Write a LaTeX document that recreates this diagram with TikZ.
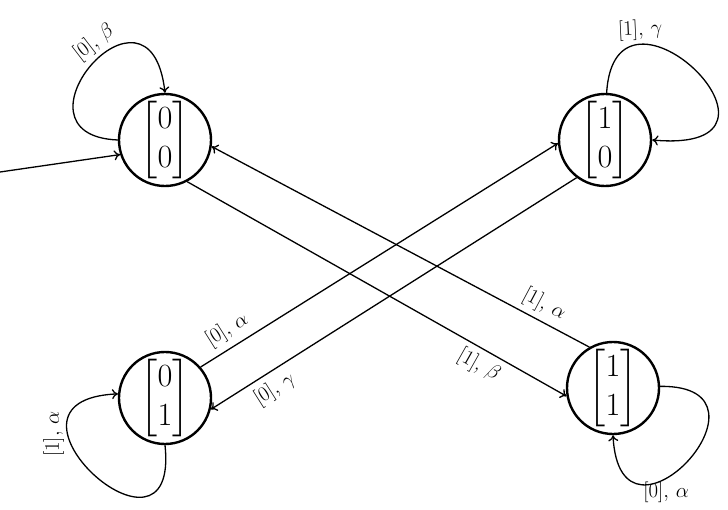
\documentclass[tikz,border=0pt]{standalone}
\usepackage{amsmath}
\usepackage{graphicx}
\usepackage{tikz}
\usetikzlibrary{arrows.meta}

\begin{document}
\begin{tikzpicture}[x=1pt, y=-1pt,
    state/.style={circle, draw, line width=2.4pt, minimum size=90pt,
      inner sep=0pt, font=\fontsize{24.88}{30}\selectfont},
    trans/.style={line width=1.3pt, -{To[length=6pt, width=10pt]}},
    lbl/.style={font=\fontsize{20.74}{24}\selectfont}]
  \useasboundingbox (0,0) rectangle (728,510);
  \foreach \name/\ra/\rb/\x/\y in {%
    s00/0/0/165/140,%
    s10/1/0/605/140,%
    s01/0/1/165/398,%
    s11/1/1/613/388%
  }{%
    \node[state] (\name) at (\x, \y)
      {\scalebox{1.3}{$\begin{bmatrix}\ra\\\rb\end{bmatrix}$}};
  }
  % start arrow
  \coordinate (init) at (0,172);
  \draw[trans] (init) -- (s00.198);
  % self loops
  \draw[trans] (s00.180) .. controls (0,135) and (150,-40) .. (s00.90)
    node[lbl, pos=0.57, sloped, above] {$[0],\,\beta$};
  \draw[trans] (s10.88) .. controls (615,-45) and (820,155) .. (s10.0)
    node[lbl, pos=0.25, sloped, above] {$[1],\,\gamma$};
  \draw[trans] (s01.-90) .. controls (180,585) and (-25,400) .. (s01.175)
    node[lbl, pos=0.7, rotate=90, above] {$[1],\,\alpha$};
  \draw[trans] (s11.2) .. controls (790,385) and (620,570) .. (s11.-90)
    node[lbl, pos=0.62, below] {$[0],\,\alpha$};
  % crossing transitions
  \draw[trans] (s00.-62) -- (s11.190)
    node[lbl, pos=0.79, sloped, below=2pt] {$[1],\,\beta$};
  \draw[trans] (s11.120) -- (s00.-8)
    node[lbl, pos=0.14, sloped, above=2pt] {$[1],\,\alpha$};
  \draw[trans] (s01.41) -- (s10.184)
    node[lbl, pos=0.1, sloped, above=3pt] {$[0],\,\alpha$};
  \draw[trans] (s10.233) -- (s01.-14)
    node[lbl, pos=0.85, sloped, below=3pt] {$[0],\,\gamma$};
\end{tikzpicture}
\end{document}
